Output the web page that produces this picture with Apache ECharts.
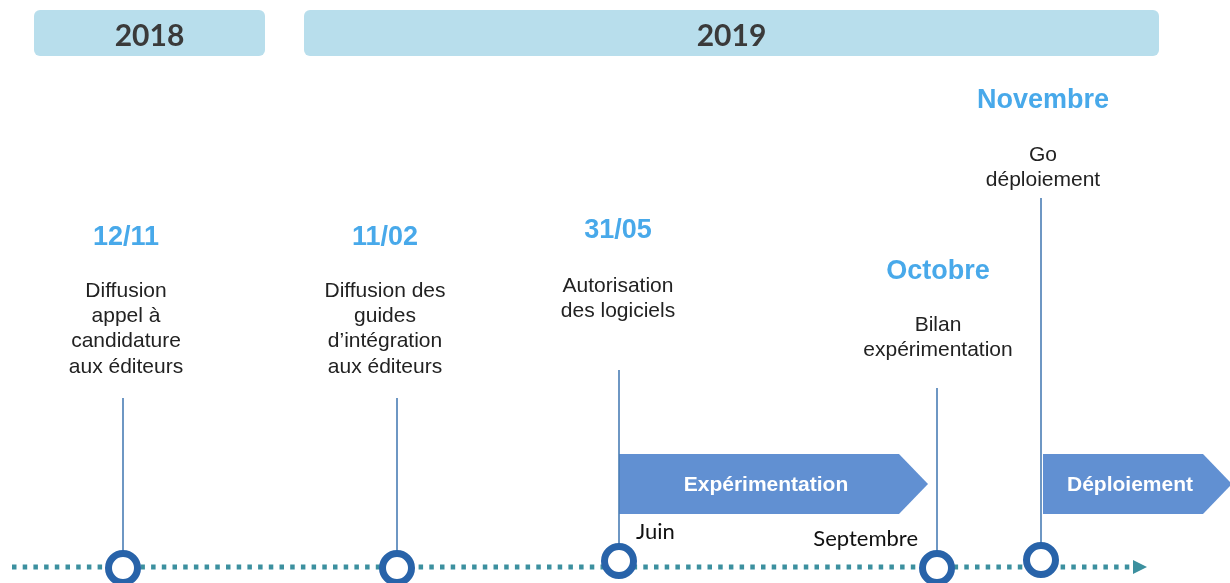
<!DOCTYPE html>
<html>
<head>
<meta charset="utf-8">
<script src="https://cdn.jsdelivr.net/npm/echarts@6/dist/echarts.min.js"></script>
<style>
  html, body { margin: 0; padding: 0; background: #fff; }
  #main { width: 1230px; height: 583px; }
</style>
</head>
<body>
<div id="main"></div>
<script>
// years along the top (span on the timeline axis)
var years = ['2018', '2019'];
var yearStart = [34, 304];
var yearEnd = [265, 1159];

// milestones
var dates = ['12/11', '11/02', '31/05', 'Octobre', 'Novembre'];
var eventPos = [123, 397, 619, 937, 1041];
var descriptions = [
  ['Diffusion', 'appel à', 'candidature', 'aux éditeurs'],
  ['Diffusion des', 'guides', 'd\u2019intégration', 'aux éditeurs'],
  ['Autorisation', 'des logiciels'],
  ['Bilan', 'expérimentation'],
  ['Go', 'déploiement']
];

// phases
var phases = ['Expérimentation', 'Déploiement'];
var phaseStart = [619, 1043];
var phaseEnd = [928, 1232];
var phaseFrom = ['Juin', ''];
var phaseTo = ['Septembre', ''];

// layout (vertical levels, px)
var dateY = [238, 238, 231, 272, 101];
var textY = [291, 291, 286, 325, 155];
var stemTop = [398, 398, 370, 388, 198];
var dotY = [568, 568, 561, 568, 560];
var labelShift = [3, -12, -1, 1, 2];

var BLUE_TXT = '#48a9ea';
var RING = '#2863a9';
var STEM = '#4a7db5';
var DOTS = '#3c909f';
var ARROW = '#6190d2';

var chart = echarts.init(document.getElementById('main'));

function xy(api, x, y) { return api.coord([x, y]); }

chart.setOption({
  animation: false,
  grid: { left: 0, right: 0, top: 0, bottom: 0 },
  xAxis: { type: 'value', min: 0, max: 1230, show: false },
  yAxis: { type: 'value', min: 0, max: 583, inverse: true, show: false },
  series: [
    {
      // year banners
      type: 'custom',
      data: years.map(function (y, i) { return [yearStart[i], yearEnd[i]]; }),
      renderItem: function (params, api) {
        var i = params.dataIndex;
        var a = xy(api, api.value(0), 10);
        var b = xy(api, api.value(1), 56);
        return {
          type: 'group',
          children: [
            { type: 'rect', shape: { x: a[0], y: a[1], width: b[0] - a[0], height: b[1] - a[1], r: 6 },
              style: { fill: '#b8deec' } },
            { type: 'text', style: { text: years[i], x: (a[0] + b[0]) / 2, y: (a[1] + b[1]) / 2 + 3,
              align: 'center', verticalAlign: 'middle', fill: '#3a3a3a', font: 'bold 30px Lato' } }
          ]
        };
      }
    },
    {
      // dotted time line with arrow head
      type: 'custom',
      data: [[12, 1135]],
      renderItem: function (params, api) {
        var a = xy(api, api.value(0), 567);
        var b = xy(api, api.value(1), 567);
        return {
          type: 'group',
          children: [
            { type: 'line', shape: { x1: a[0], y1: a[1], x2: b[0], y2: b[1] },
              style: { stroke: DOTS, lineWidth: 5, lineDash: [4.5, 6.2] } },
            { type: 'polygon', shape: { points: [[b[0] - 2, b[1] - 7], [b[0] + 12, b[1]], [b[0] - 2, b[1] + 7]] },
              style: { fill: DOTS } }
          ]
        };
      }
    },
    {
      // phase arrows
      type: 'custom',
      data: phases.map(function (p, i) { return [phaseStart[i], phaseEnd[i]]; }),
      renderItem: function (params, api) {
        var i = params.dataIndex;
        var a = xy(api, api.value(0), 454);
        var b = xy(api, api.value(1), 514);
        var mid = (a[1] + b[1]) / 2;
        var body = b[0] - 29;
        var kids = [
          { type: 'polygon', shape: { points: [[a[0], a[1]], [body, a[1]], [b[0], mid], [body, b[1]], [a[0], b[1]]] },
            style: { fill: ARROW } },
          { type: 'text', style: { text: phases[i], x: (a[0] + body) / 2 + 7, y: mid + 1,
            align: 'center', verticalAlign: 'middle', fill: '#fff', font: 'bold 21px "Liberation Sans"' } }
        ];
        if (phaseFrom[i]) {
          kids.push({ type: 'text', style: { text: phaseFrom[i], x: a[0] + 17, y: 532,
            align: 'left', verticalAlign: 'middle', fill: '#111', font: '22px Lato' } });
        }
        if (phaseTo[i]) {
          kids.push({ type: 'text', style: { text: phaseTo[i], x: b[0] - 10, y: 539,
            align: 'right', verticalAlign: 'middle', fill: '#111', font: '22px Lato' } });
        }
        return { type: 'group', children: kids };
      }
    },
    {
      // milestones: stem, ring, date, description
      type: 'custom',
      data: eventPos.map(function (p) { return [p]; }),
      renderItem: function (params, api) {
        var i = params.dataIndex;
        var top = xy(api, api.value(0), stemTop[i]);
        var dot = xy(api, api.value(0), dotY[i]);
        var cx = dot[0] + labelShift[i];
        var kids = [
          { type: 'line', shape: { x1: top[0], y1: top[1], x2: dot[0], y2: dot[1] },
            style: { stroke: STEM, lineWidth: 1.6 } },
          { type: 'circle', shape: { cx: dot[0], cy: dot[1], r: 14.5 },
            style: { fill: '#fff', stroke: RING, lineWidth: 7 } },
          { type: 'text', style: { text: dates[i], x: cx, y: dateY[i],
            align: 'center', verticalAlign: 'middle', fill: BLUE_TXT, font: 'bold 27px "Liberation Sans"' } }
        ];
        descriptions[i].forEach(function (line, k) {
          kids.push({ type: 'text', style: { text: line, x: cx, y: textY[i] + k * 25.3,
            align: 'center', verticalAlign: 'middle', fill: '#222', font: '21px "Liberation Sans"' } });
        });
        return { type: 'group', children: kids };
      }
    }
  ]
});
</script>
</body>
</html>
